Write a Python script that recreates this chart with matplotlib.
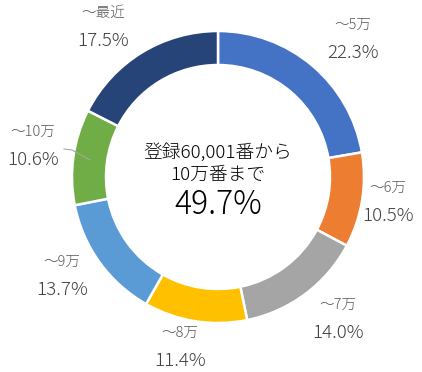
import matplotlib.pyplot as plt
import numpy as np

plt.rcParams['font.family'] = ['Noto Sans CJK JP', 'DejaVu Sans']
plt.rcParams['font.weight'] = 'light'

labels = ['～5万', '～6万', '～7万', '～8万', '～9万', '～10万', '～最近']
values = [22.3, 10.5, 14.0, 11.4, 13.7, 10.6, 17.5]
colors = ['#4472C4', '#ED7D31', '#A5A5A5', '#FFC000', '#5B9BD5', '#70AD47', '#264478']
center_lines = ['登録60,001番から', '10万番まで']
center_value = '49.7%'

W, H = 422, 372
fig = plt.figure(figsize=(W / 100, H / 100), dpi=100)
ax = fig.add_axes([0, 0, 1, 1])

cx, cy = 218, H - 177
R = 146
ax.pie(values, colors=colors, startangle=90, counterclock=False,
       radius=R, center=(cx, cy), frame=True,
       wedgeprops=dict(width=34, edgecolor='white', linewidth=1.8))
ax.set_xlim(0, W)
ax.set_ylim(0, H)
ax.set_aspect('equal')
ax.axis('off')

# where each label block sits (pixels from top-left), like Excel placed them
lab_x = [353, 388, 338, 180, 62, 33, 103]
lab_y = [39, 202, 319, 347, 276, 146, 27]
for name, v, x, y in zip(labels, values, lab_x, lab_y):
    y = H - y
    ax.text(x, y + 14, name, ha='center', va='center', fontsize=10.5, color='#595959')
    ax.text(x, y - 14, f'{v:.1f}%', ha='center', va='center', fontsize=13.5, color='#404040')

# leader line for the ～10万 label
ax.plot([64, 72, 90], [H - 149, H - 150, H - 160], color='#A6A6A6', lw=0.8)

ax.text(cx, H - 152, center_lines[0], ha='center', va='center', fontsize=13.5, color='#000000')
ax.text(cx, H - 175, center_lines[1], ha='center', va='center', fontsize=13.5, color='#000000')
ax.text(cx, H - 205, center_value, ha='center', va='center', fontsize=23, color='#000000')

plt.savefig('out.png', dpi=100)
